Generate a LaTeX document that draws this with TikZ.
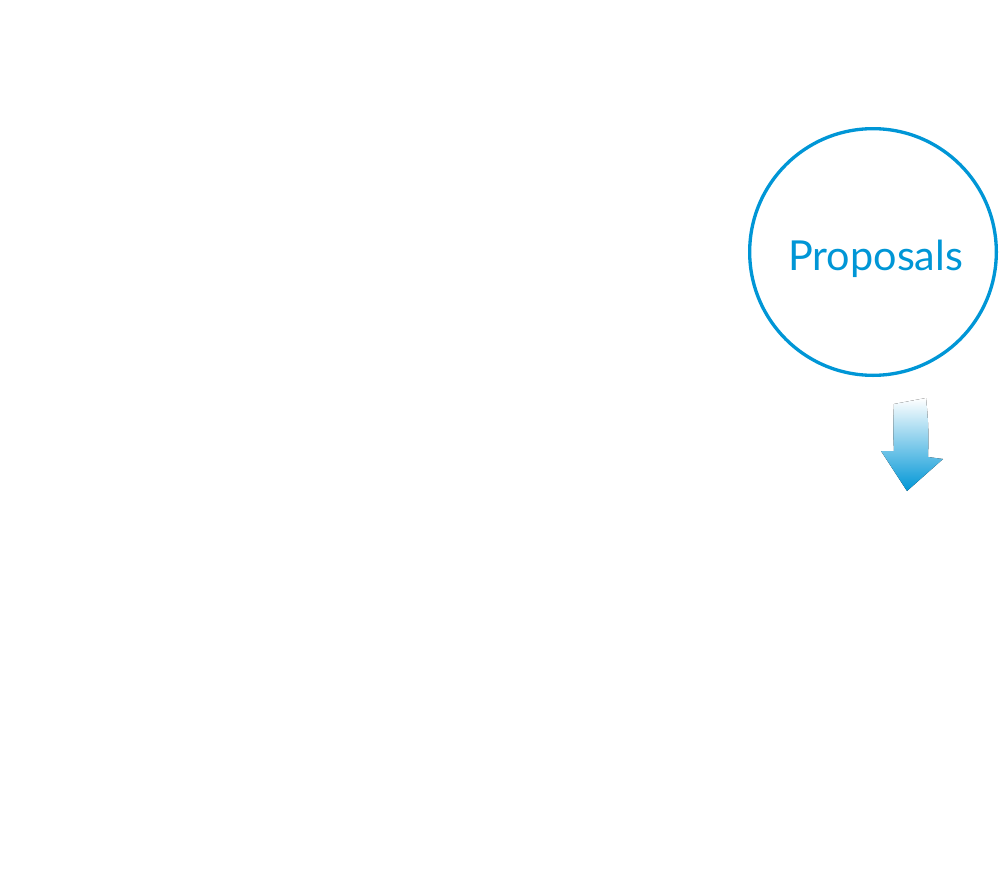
\documentclass[tikz,border=0pt]{standalone}
\usepackage{fontspec}
\setmainfont{Lato}
\definecolor{propblue}{RGB}{0,150,214}
\tikzset{
	bubble/.style={circle,draw=propblue,line width=2.5pt,minimum size=185pt,inner sep=0pt},
	bubbletext/.style={text=propblue,font=\fontsize{31}{36}\selectfont,xshift=2pt,yshift=-5pt},
	flowarrow/.style={top color=white,bottom color=propblue,shading angle=0,draw=none}
}
\begin{document}
\begin{tikzpicture}[x=0.75pt,y=-0.75pt]
	\useasboundingbox (0,0) rectangle (1000,882);
	\node[bubble,label={[bubbletext]center:Proposals}] (proposals) at (873,252) {};
	\coordinate (AT) at (910,402);
	\coordinate (AH) at (907,491);
	% shaded arrow under the bubble
	\fill[flowarrow] (894,404) -- (926,398) to[bend left=4] (928,457) -- (943,459) -- (AH) -- (881,451) -- (894,451) to[bend left=3] cycle;
\end{tikzpicture}
\end{document}
